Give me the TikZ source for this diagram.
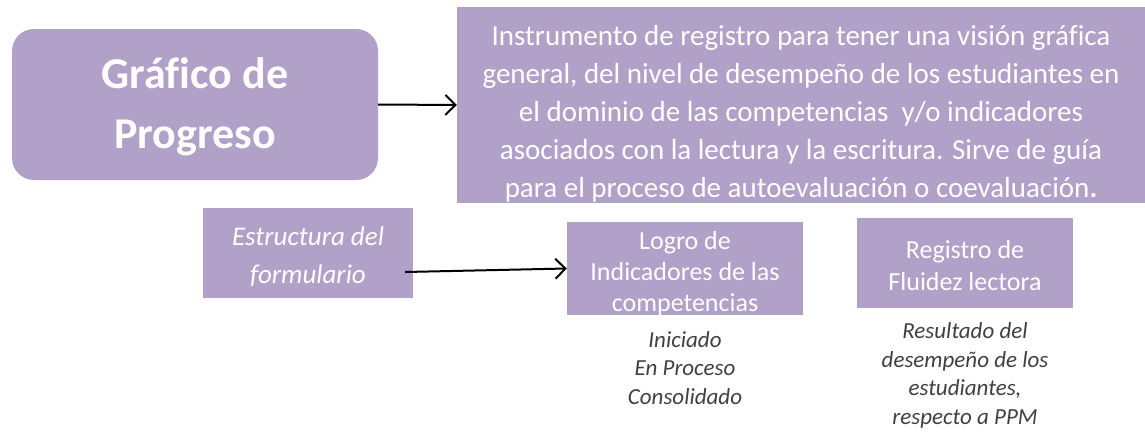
\documentclass[tikz,border=0pt]{standalone}
\usepackage{fontspec}
\setmainfont{Carlito}[Ligatures=CommonOff]
\usetikzlibrary{arrows.meta}
\definecolor{lila}{HTML}{B1A0C7}
\definecolor{gristexto}{HTML}{404040}

\begin{document}
\begin{tikzpicture}[x=1pt,y=-1pt,
    caja/.style={fill=lila, inner sep=0pt},
    rotulo/.style={text=white, align=center, inner sep=0pt},
    nota/.style={text=gristexto, align=center,
      font=\itshape\fontsize{23}{28.5}\selectfont},
    flecha/.style={-{Straight Barb[length=10pt,width=20pt]}, line width=2pt}]
  \useasboundingbox (0,0) rectangle (1145,431);

  % cajas de arriba
  \node[caja, rounded corners=22pt, minimum width=366pt, minimum height=151pt,
    label={[rotulo, yshift=-2pt, font=\bfseries\fontsize{44}{60}\selectfont]
      center:{Gráfico de\\Progreso}}] (grafico) at (195,104.5) {};
  \node[caja, minimum width=688pt, minimum height=196pt,
    label={[rotulo, yshift=-9pt, font=\fontsize{29}{38}\selectfont]
      center:{Instrumento de registro para tener una visión gráfica\\
        general, del nivel de desempeño de los estudiantes en\\
        el dominio de las competencias\ \ y/o indicadores\\
        asociados con la lectura y la escritura. Sirve de guía\\
        para el proceso de autoevaluación o coevaluación\textbf{.}}}]
    (definicion) at (801,105) {};

  % cajas de abajo
  \node[caja, minimum width=210pt, minimum height=90pt,
    label={[rotulo, yshift=-4pt, font=\itshape\fontsize{27}{38}\selectfont]
      center:{Estructura del\\formulario}}] (estructura) at (308,253) {};
  \node[caja, minimum width=236pt, minimum height=93pt,
    label={[rotulo, yshift=-5pt, font=\fontsize{26}{31}\selectfont]
      center:{Logro de\\Indicadores de las\\competencias}}] (logro) at (685,268.5) {};
  \node[caja, minimum width=216pt, minimum height=90pt,
    label={[rotulo, yshift=-3pt, font=\fontsize{26}{32}\selectfont]
      center:{Registro de\\Fluidez lectora}}] (registro) at (965,263) {};

  \node[nota] (niveles) at (685,368) {Iniciado\\En Proceso\\Consolidado};
  \node[nota] (resultado) at (965,375.5)
    {Resultado del\\desempeño de los\\estudiantes,\\respecto a PPM};

  \draw[flecha] (grafico.east) -- (definicion.west);
  \draw[flecha] ([shift={(-8,19)}]estructura.east) -- (logro.west);
\end{tikzpicture}
\end{document}
